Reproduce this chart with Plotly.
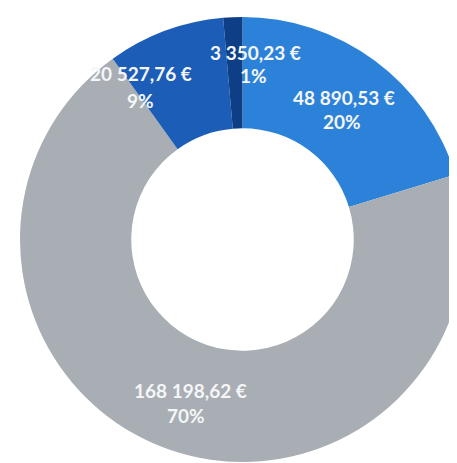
import plotly.graph_objects as go

# slices, clockwise from 12 o'clock
labels = ['Catégorie A', 'Catégorie B', 'Catégorie C', 'Catégorie D']
values = [48890.53, 168198.62, 20527.76, 3350.23]
colors = ['#2C82D8', '#A8AEB3', '#1C5DB8', '#0E3F86']

# label placement in picture pixels: (amount line x, y), (percent line x, y)
label_pos = [
    ((344, 97), (342, 121)),
    ((190, 390), (186, 415)),
    ((141, 74), (140, 100)),
    ((255, 52), (253, 76)),
]

W, H = 457, 463
OFF = 8  # page body margin shifts everything by 8px


def fmt_euro(v):
    whole, dec = ('%.2f' % v).split('.')
    groups = []
    while len(whole) > 3:
        groups.insert(0, whole[-3:])
        whole = whole[:-3]
    groups.insert(0, whole)
    return ' '.join(groups) + ',' + dec + ' €'


total = sum(values)

fig = go.Figure(go.Pie(
    labels=labels,
    values=values,
    hole=0.5,
    sort=False,
    direction='clockwise',
    rotation=0,
    marker=dict(colors=colors, line=dict(width=0)),
    textinfo='none',
    domain=dict(x=[12 / W, 1], y=[1 - 454 / H, 1 - 9 / H]),
    showlegend=False,
))

annotations = []
for v, (p1, p2) in zip(values, label_pos):
    pct = round(v / total * 100)
    for line, (px, py) in ((fmt_euro(v), p1), ('%d%%' % pct, p2)):
        annotations.append(dict(
            x=(px - OFF) / W, y=1 - (py - OFF) / H,
            xref='paper', yref='paper', xanchor='center', yanchor='middle',
            text='<b>' + line + '</b>', showarrow=False,
            font=dict(family='Lato', size=19, color='#F4F6F8'),
        ))

fig.update_layout(
    width=W, height=H,
    margin=dict(l=0, r=0, t=0, b=0),
    paper_bgcolor='white',
    annotations=annotations,
)

fig.write_html("out.html")
